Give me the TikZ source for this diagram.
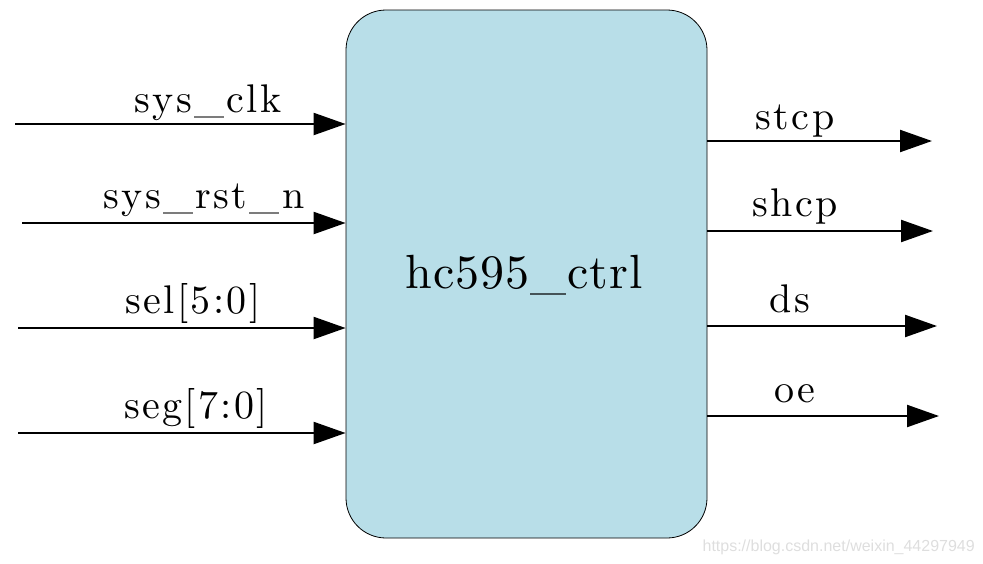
\documentclass[tikz,border=0pt]{standalone}
\usepackage{fontspec}
\newfontfamily\sigfont[Extension=.otf, LetterSpace=6]{lmroman10-regular}
\newfontfamily\namefont[Extension=.otf, LetterSpace=2]{lmroman10-regular}
\newfontfamily\markfont{Liberation Sans}
\usetikzlibrary{arrows.meta}
\definecolor{ctrlBlue}{RGB}{184,222,232}

\begin{document}
\begin{tikzpicture}[x=1pt, y=-1pt,
    sig/.style={line width=2.2pt, -{Triangle[length=32pt, width=22pt]}},
    siglabel/.style={font=\sigfont\fontsize{40}{44}\selectfont,
                     anchor=base, inner sep=0pt}
  ]
  \useasboundingbox (0,0) rectangle (983,563);

  % Module
  \node[draw=black, line width=0.8pt, fill=ctrlBlue, rounded corners=40pt,
        minimum width=361pt, minimum height=528pt, inner sep=0pt]
    (ctrl) at (526.5,274) {};
  \node[font=\namefont\fontsize{48}{52}\selectfont, anchor=base, inner sep=0pt]
    (name) at (524,288) {hc595\_ctrl};

  % Inputs
  \coordinate (clk) at (15,124);
  \coordinate (rst) at (22,223);
  \coordinate (sel) at (18,328);
  \coordinate (seg) at (18,433);
  \draw[sig] (clk) -- (clk -| ctrl.west);
  \draw[sig] (rst) -- (rst -| ctrl.west);
  \draw[sig] (sel) -- (sel -| ctrl.west);
  \draw[sig] (seg) -- (seg -| ctrl.west);
  \node[siglabel] (clklbl) at (208,112) {sys\_clk};
  \node[siglabel] (rstlbl) at (204,208) {sys\_rst\_n};
  \node[siglabel] (sellbl) at (193,313) {sel[5:0]};
  \node[siglabel] (seglbl) at (196,418) {seg[7:0]};

  % Outputs
  \coordinate (stcp) at (932,141);
  \coordinate (shcp) at (933,231);
  \coordinate (ds) at (937,326);
  \coordinate (oe) at (939,416);
  \draw[sig] (stcp -| ctrl.east) -- (stcp);
  \draw[sig] (shcp -| ctrl.east) -- (shcp);
  \draw[sig] (ds -| ctrl.east) -- (ds);
  \draw[sig] (oe -| ctrl.east) -- (oe);
  \node[siglabel] (stcplbl) at (795,129) {stcp};
  \node[siglabel] (shcplbl) at (795,216) {shcp};
  \node[siglabel] (dslbl) at (790,312) {ds};
  \node[siglabel] (oelbl) at (795,402) {oe};

  % Watermark
  \node[font=\markfont\fontsize{16}{18}\selectfont, text=black!13,
        anchor=base east, inner sep=0pt]
    (mark) at (975,551) {https://blog.csdn.net/weixin\_44297949};
\end{tikzpicture}
\end{document}
